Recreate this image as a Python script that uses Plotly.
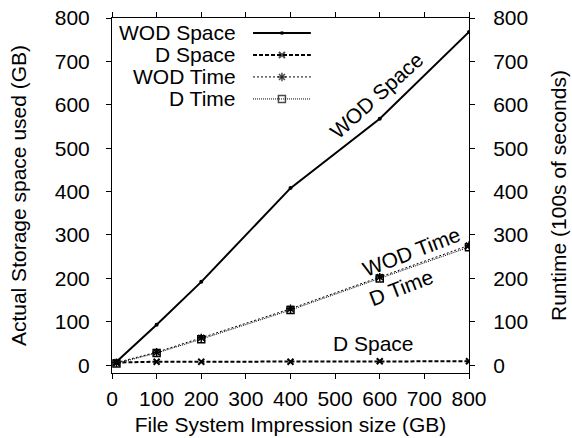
import plotly.graph_objects as go

# ---- data ----
size_gb = [10, 100, 200, 400, 600, 800]
wod_space = [8, 93, 192, 408, 568, 768]
d_space = [6, 8, 8, 8, 9, 9]
wod_time = [6, 30, 63, 130, 203, 276]
d_time = [4, 28, 60, 127, 200, 272]
tick_vals = [0, 100, 200, 300, 400, 500, 600, 700, 800]

series_names = ["WOD Space", "D Space", "WOD Time", "D Time"]

FONT = "Liberation Sans, Arial, Helvetica, sans-serif"
FS = 21

fig = go.Figure()

styles = {
    "WOD Space": dict(line=dict(color="black", width=2, dash="solid"),
                      marker=dict(symbol="circle", size=4, color="black")),
    "D Space": dict(line=dict(color="black", width=2, dash="4px,2px"),
                    marker=dict(symbol="x-thin", size=6, color="black",
                                line=dict(width=2, color="black"))),
    "WOD Time": dict(line=dict(color="black", width=1, dash="2px,2px"),
                     marker=dict(symbol="asterisk", size=7, color="black",
                                 line=dict(width=1.5, color="black"))),
    "D Time": dict(line=dict(color="black", width=1, dash="1px,1px"),
                   marker=dict(symbol="square-open", size=7, color="black",
                               line=dict(width=1.5, color="black"))),
}

fig.add_trace(go.Scatter(x=size_gb, y=wod_space, mode="lines+markers",
                         showlegend=False, yaxis="y", **styles["WOD Space"]))
fig.add_trace(go.Scatter(x=size_gb, y=d_space, mode="lines+markers",
                         showlegend=False, yaxis="y", **styles["D Space"]))
fig.add_trace(go.Scatter(x=size_gb, y=wod_time, mode="lines+markers",
                         showlegend=False, yaxis="y2", **styles["WOD Time"]))
fig.add_trace(go.Scatter(x=size_gb, y=d_time, mode="lines+markers",
                         showlegend=False, yaxis="y2", **styles["D Time"]))

# ---- custom legend (text left of sample, like gnuplot) ----
leg_rows = [0.958, 0.896, 0.834, 0.772]
leg_text_x = 0.353
leg_line = [0.395, 0.476, 0.557]
annotations = []
for name, ry in zip(series_names, leg_rows):
    st = styles[name]
    msize = st["marker"]["size"]
    fig.add_trace(go.Scatter(
        x=leg_line, y=[ry, ry, ry], mode="lines+markers",
        xaxis="x3", yaxis="y3", showlegend=False, hoverinfo="skip",
        line=st["line"],
        marker=dict(symbol=st["marker"]["symbol"], size=[0, msize, 0],
                    color="black", line=st["marker"].get("line", dict(width=0)))))
    annotations.append(dict(xref="paper", yref="paper", x=leg_text_x, y=ry,
                            xanchor="right", yanchor="middle", text=name,
                            showarrow=False, font=dict(family=FONT, size=FS, color="black")))

# ---- in-plot labels ----
labels = [
    dict(text="WOD Space", x=592, y=622, angle=-42, yref="y"),
    dict(text="WOD Time", x=672, y=262, angle=-21, yref="y2"),
    dict(text="D Time", x=648, y=178, angle=-21, yref="y2"),
    dict(text="D Space", x=587, y=50, angle=0, yref="y"),
]
for lb in labels:
    annotations.append(dict(xref="x", yref=lb["yref"], x=lb["x"], y=lb["y"],
                            text=lb["text"], textangle=lb["angle"], showarrow=False,
                            xanchor="center", yanchor="middle",
                            font=dict(family=FONT, size=FS, color="black")))

axis_common = dict(showgrid=False, zeroline=False, showline=True, linecolor="black",
                   linewidth=1, ticks="outside", ticklen=5, tickcolor="black",
                   automargin=False,
                   tickfont=dict(family=FONT, size=FS, color="black"))

fig.update_layout(
    width=572, height=438,
    margin=dict(l=112, r=103, t=18, b=65),
    paper_bgcolor="white", plot_bgcolor="white",
    font=dict(family=FONT, size=FS, color="black"),
    xaxis=dict(range=[0, 800], tickvals=tick_vals, mirror="ticks", ticklabelstandoff=2,
               title=dict(text="File System Impression size (GB)", standoff=8,
                          font=dict(family=FONT, size=FS)), **axis_common),
    yaxis=dict(range=[-18, 800], tickvals=tick_vals, mirror=True, ticklabelstandoff=12,
               title=dict(text="Actual Storage space used (GB)", standoff=22,
                          font=dict(family=FONT, size=FS)), **axis_common),
    yaxis2=dict(range=[-18, 800], tickvals=tick_vals, overlaying="y", side="right",
                ticklabelstandoff=14,
                title=dict(text="Runtime (100s of seconds)", standoff=24,
                           font=dict(family=FONT, size=FS)), **axis_common),
    xaxis3=dict(range=[0, 1], overlaying="x", visible=False, domain=[0, 1]),
    yaxis3=dict(range=[0, 1], overlaying="y", visible=False, anchor="x3"),
    annotations=annotations,
)

fig.write_html("out.html", config={"displayModeBar": False},
               post_script="document.body.style.margin='0';document.body.style.padding='0';")
